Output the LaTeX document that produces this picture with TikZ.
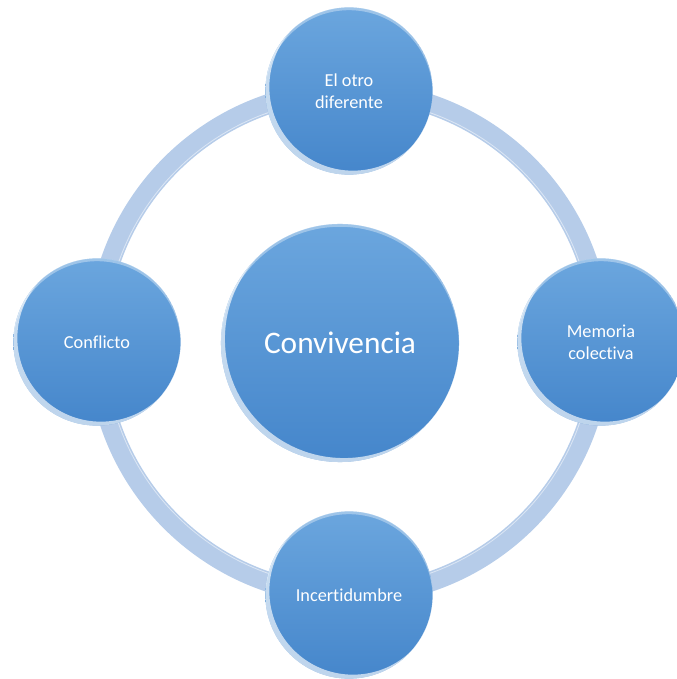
\documentclass[tikz,border=0pt]{standalone}
\usepackage{fontspec}
\setmainfont{Carlito}[Ligatures=NoCommon]
\usepackage{xcolor}
\usepackage{tikz}
\usetikzlibrary{positioning}

\definecolor{orbtop}{HTML}{6BA6DE}
\definecolor{orbbottom}{HTML}{4586CB}
\definecolor{ringblue}{HTML}{B6CCE9}

\begin{document}
\begin{tikzpicture}[x=0.025cm, y=0.025cm,
                    orb/.style={circle, minimum size=#1, inner sep=0pt,
                                top color=orbtop, bottom color=orbbottom,
                                text=white, align=center,
                                font=\fontsize{13}{15.5}\selectfont,
                                path picture={
                                  \fill[white, opacity=.65, even odd rule]
                                    (path picture bounding box.center) circle[radius=#1/2]
                                    ([shift={(45:0.14cm)}]path picture bounding box.center) circle[radius=#1/2];
                                  \fill[white, opacity=.35, even odd rule]
                                    (path picture bounding box.center) circle[radius=#1/2]
                                    ([shift={(-90:0.07cm)}]path picture bounding box.center) circle[radius=#1/2];
                                }},
                    ring/.style={draw=ringblue, line width=0.5cm}]
  \useasboundingbox (0,0) rectangle (677,679);
  \coordinate (hub) at (349,336);
  % the ring behind the circles
  \draw[ring] (hub) circle[radius=6.3cm];
  \draw[white, opacity=.5, line width=0.6pt] (hub) circle[radius=6.1cm];
  \node[orb=5.95cm, font=\fontsize{22.3}{26}\selectfont] (conv) at (340,336) {Convivencia};
  \node[orb=4.18cm] (otro) at (349,588) {El otro\\diferente};
  \node[orb=4.18cm] (conflicto) at (97,337) {Conflicto};
  \node[orb=4.18cm] (memoria) at (601,337) {Memoria\\colectiva};
  \node[orb=4.18cm] (incert) at (349,84) {Incertidumbre};
\end{tikzpicture}
\end{document}
